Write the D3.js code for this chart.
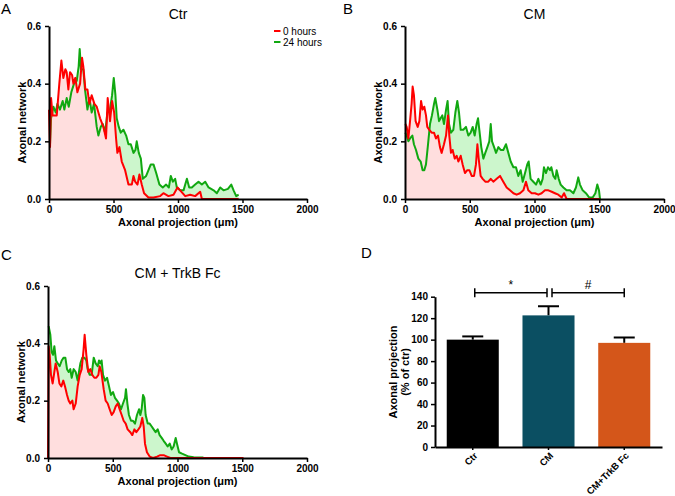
<!DOCTYPE html>
<html><head><meta charset="utf-8">
<script src="https://cdn.jsdelivr.net/npm/d3@7"></script>
<style>
body{margin:0;background:#fff;}
svg{font-family:Arial,"Liberation Sans",Helvetica,sans-serif;}
</style></head><body>
<svg id="c" width="675" height="496"></svg>
<script>
// ---------- DATA ----------
const xTicks = [0, 500, 1000, 1500, 2000];
const yTicks = [0.0, 0.2, 0.4, 0.6];
const seriesNames = ["0 hours", "24 hours"];

const ctr0h = [[0,0.31],[8,0.18],[16,0.35],[28,0.29],[60,0.29],[80,0.40],[96,0.48],[111,0.42],[127,0.45],[137,0.44],[150,0.38],[163,0.44],[179,0.43],[189,0.40],[204,0.42],[220,0.37],[241,0.40],[256,0.49],[266,0.46],[282,0.38],[298,0.38],[313,0.33],[331,0.36],[352,0.33],[370,0.32],[396,0.28],[422,0.25],[442,0.21],[455,0.35],[473,0.27],[489,0.34],[505,0.30],[520,0.21],[530,0.16],[546,0.18],[564,0.13],[590,0.10],[616,0.05],[642,0.05],[655,0.08],[668,0.06],[686,0.05],[701,0.085],[719,0.05],[737,0.02],[771,0.005],[810,0.005],[862,0.01],[887,0.02],[926,0.01],[965,0.015],[996,0.04],[1017,0.03],[1056,0.01],[1094,0.015],[1133,0.01],[1172,0.025],[1185,0.0],[1470,0.0]];
const ctr24h = [[8,0.19],[16,0.28],[34,0.32],[52,0.30],[65,0.33],[85,0.31],[106,0.34],[119,0.31],[137,0.35],[153,0.32],[173,0.37],[194,0.40],[215,0.41],[230,0.46],[238,0.52],[248,0.45],[266,0.45],[279,0.38],[298,0.31],[313,0.35],[331,0.30],[349,0.33],[370,0.25],[383,0.22],[401,0.25],[417,0.26],[435,0.23],[453,0.30],[473,0.31],[489,0.36],[502,0.42],[515,0.36],[525,0.28],[541,0.25],[556,0.23],[577,0.24],[598,0.22],[616,0.19],[634,0.19],[655,0.16],[670,0.17],[680,0.20],[696,0.16],[712,0.14],[727,0.07],[753,0.08],[771,0.10],[789,0.12],[810,0.12],[831,0.09],[856,0.05],[882,0.04],[908,0.05],[929,0.04],[944,0.08],[960,0.06],[978,0.07],[991,0.04],[1017,0.03],[1043,0.03],[1056,0.05],[1069,0.07],[1087,0.04],[1107,0.04],[1133,0.05],[1159,0.06],[1185,0.05],[1211,0.06],[1237,0.04],[1276,0.03],[1301,0.02],[1327,0.04],[1353,0.03],[1387,0.035],[1413,0.05],[1431,0.03],[1451,0.01],[1470,0.015]];

const cm0h = [[3,0.26],[13,0.25],[26,0.21],[39,0.27],[51,0.33],[59,0.39],[69,0.36],[82,0.27],[98,0.25],[111,0.27],[124,0.34],[136,0.31],[149,0.32],[162,0.29],[172,0.25],[188,0.24],[206,0.23],[224,0.23],[239,0.21],[255,0.22],[270,0.18],[283,0.16],[301,0.19],[317,0.22],[332,0.29],[342,0.22],[355,0.16],[368,0.17],[384,0.14],[399,0.15],[412,0.13],[430,0.15],[445,0.12],[463,0.09],[481,0.10],[497,0.10],[515,0.08],[533,0.08],[548,0.12],[559,0.19],[569,0.14],[584,0.08],[600,0.07],[620,0.06],[643,0.06],[662,0.07],[682,0.06],[708,0.07],[734,0.08],[759,0.06],[785,0.04],[811,0.03],[837,0.02],[862,0.015],[888,0.02],[914,0.03],[934,0.06],[952,0.03],[978,0.02],[1004,0.02],[1030,0.015],[1055,0.02],[1081,0.03],[1107,0.03],[1133,0.025],[1158,0.02],[1184,0.015],[1210,0.005],[1228,0.02],[1248,0.0],[1505,0.0]];
const cm24h = [[3,0.23],[13,0.22],[26,0.20],[39,0.21],[57,0.22],[69,0.19],[85,0.17],[103,0.14],[121,0.13],[136,0.10],[149,0.10],[162,0.12],[178,0.19],[193,0.26],[208,0.29],[224,0.33],[234,0.35],[250,0.31],[263,0.27],[275,0.28],[288,0.29],[301,0.26],[317,0.31],[329,0.34],[340,0.26],[355,0.23],[373,0.24],[389,0.30],[404,0.34],[417,0.30],[430,0.24],[450,0.24],[471,0.25],[489,0.22],[507,0.23],[523,0.25],[538,0.22],[553,0.26],[564,0.28],[574,0.24],[589,0.18],[605,0.14],[620,0.16],[636,0.18],[651,0.20],[662,0.26],[672,0.20],[688,0.18],[703,0.16],[721,0.18],[739,0.17],[759,0.17],[780,0.19],[798,0.16],[816,0.13],[837,0.11],[857,0.11],[875,0.08],[893,0.10],[909,0.06],[927,0.09],[944,0.12],[955,0.13],[970,0.07],[991,0.06],[1012,0.05],[1030,0.07],[1048,0.05],[1063,0.07],[1073,0.11],[1089,0.09],[1104,0.11],[1120,0.10],[1130,0.11],[1146,0.08],[1161,0.07],[1171,0.10],[1187,0.07],[1202,0.05],[1223,0.04],[1248,0.03],[1274,0.03],[1300,0.02],[1320,0.04],[1338,0.075],[1351,0.05],[1372,0.03],[1397,0.02],[1423,0.005],[1449,0.005],[1470,0.02],[1485,0.05],[1498,0.03],[1506,0.0]];

const trk0h = [[0,0.0],[5,0.39],[13,0.36],[23,0.29],[36,0.26],[49,0.30],[59,0.33],[75,0.30],[88,0.26],[103,0.25],[118,0.27],[131,0.25],[147,0.22],[160,0.20],[172,0.19],[188,0.20],[198,0.17],[214,0.19],[229,0.25],[245,0.29],[260,0.31],[275,0.38],[283,0.43],[296,0.36],[311,0.30],[327,0.31],[342,0.29],[358,0.28],[373,0.28],[389,0.29],[399,0.32],[412,0.30],[430,0.24],[445,0.20],[461,0.19],[476,0.17],[492,0.15],[507,0.16],[523,0.18],[538,0.19],[553,0.17],[569,0.15],[584,0.13],[600,0.12],[615,0.10],[636,0.09],[651,0.08],[667,0.10],[682,0.09],[698,0.10],[713,0.11],[728,0.14],[739,0.11],[749,0.05],[764,0.02],[785,0.005],[811,0.0],[842,0.005],[867,0.01],[893,0.01],[919,0.005],[945,0.0],[1510,0.0]];
const trk24h = [[5,0.46],[18,0.43],[28,0.37],[39,0.36],[49,0.39],[62,0.34],[75,0.33],[90,0.32],[106,0.34],[121,0.35],[134,0.35],[147,0.31],[160,0.30],[172,0.31],[183,0.28],[198,0.31],[214,0.30],[229,0.27],[239,0.30],[250,0.33],[265,0.35],[281,0.35],[296,0.34],[306,0.31],[322,0.29],[337,0.29],[353,0.35],[368,0.33],[384,0.32],[394,0.34],[404,0.33],[414,0.34],[425,0.29],[440,0.27],[456,0.28],[471,0.25],[486,0.22],[502,0.23],[517,0.21],[533,0.20],[548,0.19],[564,0.17],[579,0.19],[595,0.21],[602,0.24],[613,0.19],[625,0.15],[641,0.13],[656,0.13],[672,0.12],[687,0.15],[703,0.17],[713,0.15],[723,0.17],[734,0.22],[744,0.21],[754,0.15],[770,0.12],[785,0.12],[801,0.11],[816,0.10],[831,0.09],[847,0.10],[862,0.08],[878,0.07],[893,0.06],[909,0.05],[924,0.04],[940,0.05],[955,0.03],[970,0.04],[986,0.07],[996,0.05],[1012,0.02],[1035,0.015],[1061,0.01],[1086,0.005],[1125,0.003],[1200,0.002]];

const barCategories = ["Ctr", "CM", "CM+TrkB Fc"];
const barValues = [100, 122.6, 97];
const barErrors = [3, 8.5, 5];
const barColors = ["#000000", "#0b4f62", "#d4561a"];
const barTicks = [0, 20, 40, 60, 80, 100, 120, 140];
const sigLabels = ["*", "#"];

// ---------- DRAW ----------
const svg = d3.select("#c");
const RED = "#ff0000", GREEN = "#11a811", PINK = "#ffdede", LGREEN = "#ccf6cc";

function styleAxis(a) {
  a.select(".domain").attr("stroke", "#000").attr("stroke-width", 2);
  a.selectAll(".tick line").attr("stroke", "#000").attr("stroke-width", 1.5);
  a.selectAll("text").attr("font-size", 10).attr("font-weight", "bold").attr("fill", "#000")
    .attr("font-family", "Arial, 'Liberation Sans', sans-serif");
}

function linePanel(o) {
  const x = d3.scaleLinear().domain([0, 2000]).range([o.x0, o.x1]);
  const y = d3.scaleLinear().domain([0, 0.6]).range([o.y0, o.y1]);
  const g = svg.append("g");
  const area = d3.area().x(d => x(d[0])).y0(y(0)).y1(d => y(d[1]));
  const line = d3.line().x(d => x(d[0])).y(d => y(d[1]));
  g.append("path").datum(o.g).attr("d", area).attr("fill", LGREEN);
  g.append("path").datum(o.r).attr("d", area).attr("fill", PINK);
  g.append("path").datum(o.g).attr("d", line).attr("fill", "none").attr("stroke", GREEN).attr("stroke-width", 2).attr("stroke-linejoin", "round");
  g.append("path").datum(o.r).attr("d", line).attr("fill", "none").attr("stroke", RED).attr("stroke-width", 2).attr("stroke-linejoin", "round");

  const xa = g.append("g").attr("transform", `translate(0,${o.y0})`)
    .call(d3.axisBottom(x).tickValues(xTicks).tickSize(4).tickSizeOuter(0).tickFormat(d3.format("d")));
  const ya = g.append("g").attr("transform", `translate(${o.x0},0)`)
    .call(d3.axisLeft(y).tickValues(yTicks).tickSize(4).tickSizeOuter(0).tickFormat(d3.format(".1f")));
  styleAxis(xa); styleAxis(ya);
  ya.selectAll("text").attr("dx", "-1px");

  g.append("text").attr("x", (o.x0 + o.x1) / 2).attr("y", o.y0 + 27).attr("text-anchor", "middle")
    .attr("font-size", 11).attr("font-weight", "bold").text("Axonal projection (μm)");
  g.append("text").attr("transform", `translate(${o.x0 - 23},${(o.y0 + o.y1) / 2 + 10}) rotate(-90)`)
    .attr("text-anchor", "middle").attr("font-size", 11).attr("font-weight", "bold").text("Axonal network");
  g.append("text").attr("x", (o.x0 + o.x1) / 2).attr("y", o.ty).attr("text-anchor", "middle")
    .attr("font-size", 14).text(o.title);
  g.append("text").attr("x", o.lx).attr("y", o.ly).attr("font-size", 15).text(o.letter);
  return {x, y, g};
}

linePanel({x0: 49, x1: 307, y0: 199, y1: 26, r: ctr0h, g: ctr24h, title: "Ctr", ty: 19, letter: "A", lx: 1, ly: 14});
linePanel({x0: 405, x1: 664, y0: 199, y1: 26, r: cm0h, g: cm24h, title: "CM", ty: 19, letter: "B", lx: 343, ly: 14});
linePanel({x0: 48, x1: 307, y0: 458, y1: 286, r: trk0h, g: trk24h, title: "CM + TrkB Fc", ty: 278, letter: "C", lx: 1, ly: 260});

// legend in panel A
const leg = svg.append("g");
seriesNames.forEach((s, i) => {
  const yy = 31 + i * 11;
  leg.append("line").attr("x1", 274).attr("x2", 280.5).attr("y1", yy).attr("y2", yy)
    .attr("stroke", i === 0 ? RED : GREEN).attr("stroke-width", 2);
  leg.append("text").attr("x", 283).attr("y", yy + 3.5).attr("font-size", 10).text(s);
});

// ---------- Panel D ----------
const xb = d3.scaleBand().domain(barCategories).range([435, 662]).paddingInner(0.313).paddingOuter(0.155);
const yb = d3.scaleLinear().domain([0, 140]).range([447, 296.7]);
const gd = svg.append("g");
barCategories.forEach((c, i) => {
  const cx = xb(c) + xb.bandwidth() / 2;
  const top = yb(barValues[i] + barErrors[i]);
  gd.append("line").attr("x1", cx).attr("x2", cx).attr("y1", yb(barValues[i])).attr("y2", top)
    .attr("stroke", "#000").attr("stroke-width", 2);
  gd.append("line").attr("x1", cx - 10.5).attr("x2", cx + 10.5).attr("y1", top).attr("y2", top)
    .attr("stroke", "#000").attr("stroke-width", 2);
});
gd.selectAll("rect.bar").data(barCategories).enter().append("rect")
  .attr("x", d => xb(d)).attr("width", xb.bandwidth())
  .attr("y", (d, i) => yb(barValues[i])).attr("height", (d, i) => yb(0) - yb(barValues[i]))
  .attr("fill", (d, i) => barColors[i]);

const xbAxis = gd.append("g").attr("transform", "translate(0,447)")
  .call(d3.axisBottom(xb).tickSize(3).tickSizeOuter(0));
const ybAxis = gd.append("g").attr("transform", "translate(435,0)")
  .call(d3.axisLeft(yb).tickValues(barTicks).tickSize(4).tickSizeOuter(0));
styleAxis(xbAxis); styleAxis(ybAxis);
xbAxis.selectAll("text").attr("font-size", 9.5).attr("text-anchor", "end")
  .attr("transform", "translate(3,7) rotate(-45)").attr("dy", "0.35em").attr("y", 0).attr("x", 0);

gd.append("text").attr("transform", "translate(397,372) rotate(-90)").attr("text-anchor", "middle")
  .attr("font-size", 11).attr("font-weight", "bold").text("Axonal projection");
gd.append("text").attr("transform", "translate(409,372) rotate(-90)").attr("text-anchor", "middle")
  .attr("font-size", 11).attr("font-weight", "bold").text("(% of ctr)");
gd.append("text").attr("x", 361).attr("y", 258).attr("font-size", 15).text("D");

// significance brackets
const sigY = yb(143.7);
const c0 = xb("Ctr") + xb.bandwidth() / 2, c1 = xb("CM") + xb.bandwidth() / 2, c2 = xb("CM+TrkB Fc") + xb.bandwidth() / 2;
[[c0 + 2, c1 - 1.5, sigLabels[0]], [c1 + 3.5, c2, sigLabels[1]]].forEach(([a, b, s]) => {
  gd.append("line").attr("x1", a).attr("x2", b).attr("y1", sigY).attr("y2", sigY).attr("stroke", "#000").attr("stroke-width", 1.5);
  [a, b].forEach(xx => gd.append("line").attr("x1", xx).attr("x2", xx).attr("y1", sigY - 4.5).attr("y2", sigY + 4.5).attr("stroke", "#000").attr("stroke-width", 1.5));
  gd.append("text").attr("x", (a + b) / 2).attr("y", sigY - 4).attr("text-anchor", "middle").attr("font-size", 12).text(s);
});
</script>
</body></html>
